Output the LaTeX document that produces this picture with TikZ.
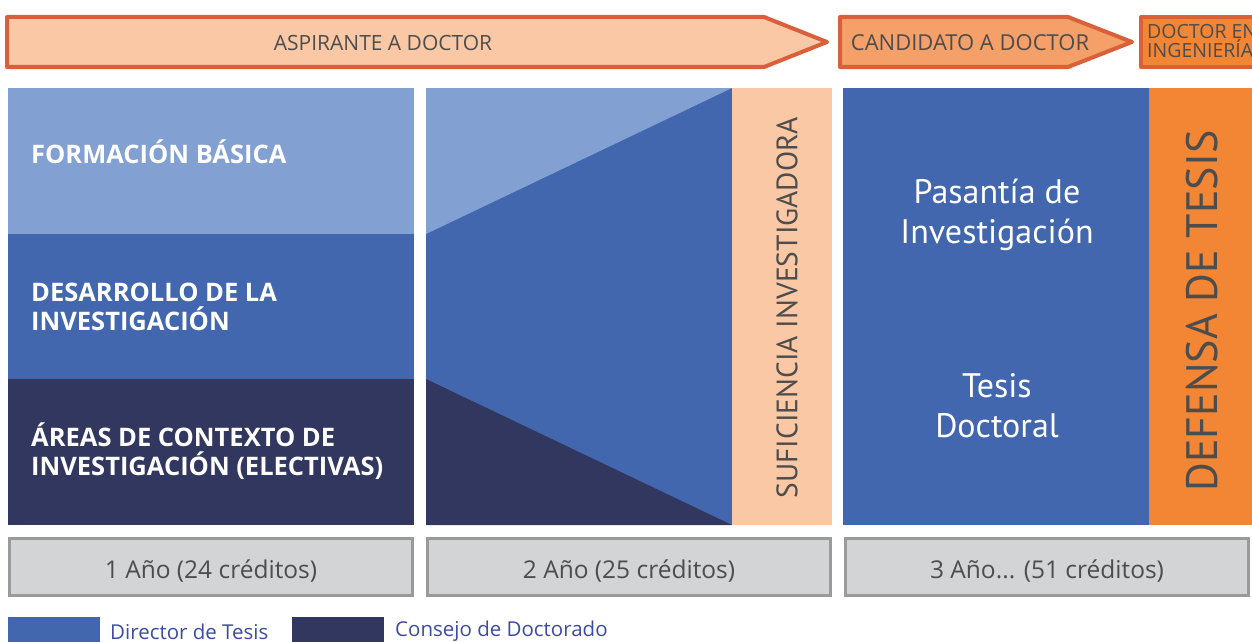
\documentclass[tikz,border=0pt]{standalone}
\usepackage{fontspec}
\setmainfont{PT Sans}
\newfontfamily\capsfont{Open Sans}
\usetikzlibrary{positioning}

\definecolor{lightblue}{HTML}{82A0D2}
\definecolor{midblue}{HTML}{4267AF}
\definecolor{navy}{HTML}{32375F}
\definecolor{peach}{HTML}{FAC8A5}
\definecolor{candorange}{HTML}{F5A068}
\definecolor{docorange}{HTML}{F28634}
\definecolor{arrowred}{HTML}{D9603A}
\definecolor{boxgray}{HTML}{D3D4D6}
\definecolor{bordergray}{HTML}{9A9A9A}
\definecolor{textgray}{HTML}{4D4D4D}
\definecolor{legendblue}{HTML}{3D4CA0}

\begin{document}
\begin{tikzpicture}[x=1pt,y=-1pt]
\tikzstyle{stage} = [line width=4pt,draw=arrowred,line join=round]
\tikzstyle{stagetext} = [text=textgray,font=\capsfont\fontsize{21}{21}\selectfont,inner sep=0pt]
\tikzstyle{areatext} = [text=white,font=\capsfont\bfseries\fontsize{25.5}{29}\selectfont,anchor=base west,align=left,inner sep=0pt]
\tikzstyle{worktext} = [text=white,font=\fontsize{34}{40}\selectfont,anchor=base,align=center,inner sep=0pt]
\tikzstyle{yearbox} = [fill=boxgray,draw=bordergray,line width=3pt]
\tikzstyle{yeartext} = [text=textgray,font=\capsfont\fontsize{24.5}{24.5}\selectfont,anchor=base,inner sep=0pt]
\tikzstyle{legendtext} = [text=legendblue,font=\capsfont\fontsize{20.5}{20.5}\selectfont,anchor=base west,inner sep=0pt]

\useasboundingbox (0,0) rectangle (1252,642);
\clip (0,0) rectangle (1252,642);

% etapas
\draw[stage,fill=peach] (7,17) -- (764,17) -- (827,42) -- (764,67) -- (7,67) -- cycle;
\node[stagetext] (aspirante) at (383,43) {ASPIRANTE A DOCTOR};
\draw[stage,fill=candorange] (840,17) -- (1068,17) -- (1132,42) -- (1068,67) -- (840,67) -- cycle;
\node[stagetext,font=\capsfont\fontsize{22}{22}\selectfont] (candidato) at (970,43) {CANDIDATO A DOCTOR};
\draw[stage,fill=docorange] (1141,17) rectangle (1262,67);
\node[stagetext,anchor=base west,align=left,font=\capsfont\fontsize{19.5}{19}\selectfont] (doctor) at (1147,57) {DOCTOR EN\\INGENIERÍA};

% primer año
\fill[lightblue] (8,88) rectangle (414,234);
\fill[midblue] (8,234) rectangle (414,379);
\fill[navy] (8,379) rectangle (414,525);
\node[areatext] (formacion) at (31,163) {FORMACIÓN BÁSICA};
\node[areatext] (desarrollo) at (31,330) {DESARROLLO DE LA\\INVESTIGACIÓN};
\node[areatext] (areas) at (31,475) {ÁREAS DE CONTEXTO DE\\INVESTIGACIÓN (ELECTIVAS)};

% segundo año
\fill[midblue] (426,88) rectangle (732,525);
\fill[lightblue] (426,88) -- (732,88) -- (426,234) -- cycle;
\fill[navy] (426,379) -- (732,525) -- (426,525) -- cycle;
\fill[peach] (732,88) rectangle (832,525);
\node[text=textgray,font=\fontsize{29.5}{29.5}\selectfont,rotate=90,inner sep=0pt] (suficiencia) at (787,308) {SUFICIENCIA INVESTIGADORA};

% tercer año
\fill[midblue] (843,88) rectangle (1149,525);
\fill[docorange] (1149,88) rectangle (1252,525);
\node[worktext] (pasantia) at (997,243) {Pasantía de\\Investigación};
\node[worktext] (tesis) at (997,437) {Tesis\\Doctoral};
\node[text=textgray,font=\fontsize{44}{44}\selectfont,rotate=90,inner sep=0pt] (defensa) at (1202,311) {DEFENSA DE TESIS};

% duración
\foreach \x/\t [count=\i] in {8/{1 Año (24 créditos)}, 426/{2 Año (25 créditos)}, 844/{3 Año... (51 créditos)}} {
\draw[yearbox] (\x+1.5,538.5) rectangle ++(403,57);
\node[yeartext] (year\i) at (\x+203,578) {\t};
}

% leyenda
\fill[midblue] (8,617) rectangle (100,645);
\node[legendtext] (director) at (110,639) {Director de Tesis};
\fill[navy] (292,617) rectangle (384,645);
\node[legendtext] (consejo) at (395,636) {Consejo de Doctorado};

\end{tikzpicture}
\end{document}
